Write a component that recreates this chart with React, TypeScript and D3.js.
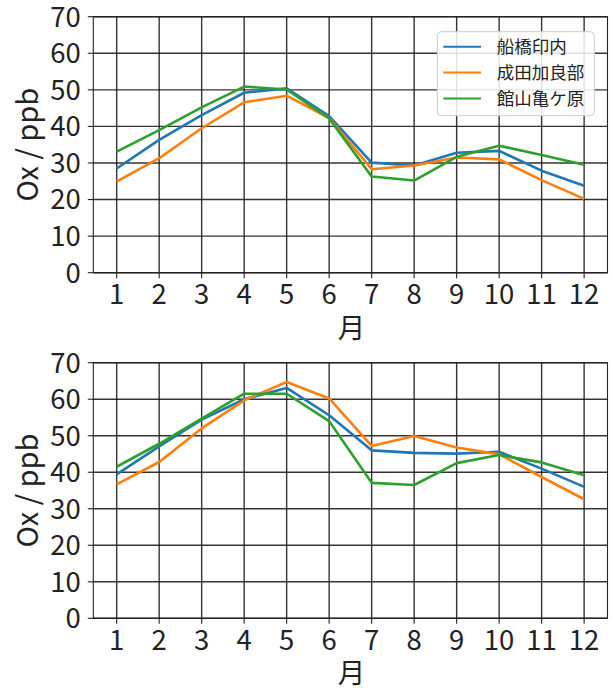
import React from "react";
import * as d3 from "d3";

const months = [1, 2, 3, 4, 5, 6, 7, 8, 9, 10, 11, 12];
const yTicks = [0, 10, 20, 30, 40, 50, 60, 70];
const seriesNames = ["船橋印内", "成田加良部", "館山亀ケ原"];
const seriesColors = ["#1f77b4", "#ff7f0e", "#2ca02c"];

const topFunabashi = [28.5, 36.3, 43.1, 49.2, 50.4, 42.8, 30.1, 29.3, 32.8, 33.3, 27.9, 23.8];
const topNarita = [24.9, 31.3, 39.5, 46.6, 48.4, 42.3, 28.3, 29.3, 31.5, 31.0, 25.3, 20.2];
const topTateyama = [33.1, 39.0, 45.2, 50.9, 50.1, 42.2, 26.3, 25.2, 31.7, 34.7, 32.2, 29.5];

const botFunabashi = [39.4, 47.1, 54.4, 60.0, 63.1, 55.6, 46.0, 45.3, 45.1, 45.6, 41.0, 36.0];
const botNarita = [36.7, 42.8, 52.0, 59.7, 64.7, 60.2, 47.2, 49.9, 46.8, 44.9, 38.7, 32.6];
const botTateyama = [41.5, 47.8, 54.7, 61.5, 61.5, 54.0, 37.1, 36.5, 42.5, 44.7, 42.7, 39.2];

const FONT = "'Noto Sans CJK JP', 'Noto Sans', sans-serif";

const W = 613;
const H = 688;
const left = 93.3;
const right = 607.5;
const FS = 27.5;
const FW = 400;

type PanelProps = { top: number; bottom: number; data: number[][]; legend: boolean };

function Panel({ top, bottom, data, legend }: PanelProps) {
  const x = d3.scaleLinear().domain([0.45, 12.55]).range([left, right]);
  const y = d3.scaleLinear().domain([0, 70]).range([bottom, top]);
  const line = d3
    .line<number>()
    .x((_, i) => x(months[i]))
    .y((d) => y(d));
  const tickLen = 5.5;
  return (
    <g>
      {months.map((m) => (
        <line key={"gx" + m} x1={x(m)} x2={x(m)} y1={top} y2={bottom} stroke="#111" strokeWidth={1.4} strokeOpacity={0.85} />
      ))}
      {yTicks.map((t) => (
        <line key={"gy" + t} x1={left} x2={right} y1={y(t)} y2={y(t)} stroke="#111" strokeWidth={1.4} strokeOpacity={0.85} />
      ))}
      {data.map((s, i) => (
        <path key={"s" + i} d={line(s) || ""} fill="none" stroke={seriesColors[i]} strokeWidth={2.6} strokeLinejoin="round" />
      ))}
      <rect x={left} y={top} width={right - left} height={bottom - top} fill="none" stroke="#222" strokeWidth={1.1} />
      {months.map((m) => (
        <g key={"tx" + m}>
          <line x1={x(m)} x2={x(m)} y1={bottom} y2={bottom + tickLen} stroke="#222" strokeWidth={1.1} />
          <text x={x(m)} y={bottom + 31.5} textAnchor="middle" fontFamily={FONT} fontWeight={FW} fontSize={FS} fill="#222">
            {m}
          </text>
        </g>
      ))}
      {yTicks.map((t) => (
        <g key={"ty" + t}>
          <line x1={left - tickLen} x2={left} y1={y(t)} y2={y(t)} stroke="#222" strokeWidth={1.1} />
          <text x={left - 12.5} y={y(t)} dy="0.36em" textAnchor="end" fontFamily={FONT} fontWeight={FW} fontSize={FS} fill="#222">
            {t}
          </text>
        </g>
      ))}
      <text
        transform={`translate(${27.5},${(top + bottom) / 2}) rotate(-90)`}
        textAnchor="middle"
        dy="0.36em"
        fontFamily={FONT}
        fontWeight={FW}
        fontSize={FS + 1.5}
        fill="#222"
      >
        Ox / ppb
      </text>
      <text x={(left + right) / 2 + 1} y={bottom + 65} textAnchor="middle" fontFamily={FONT} fontWeight={FW} fontSize={FS} fill="#222">
        月
      </text>
      {legend && (
        <g>
          <rect x={437.3} y={31.7} width={157} height={84} rx={4} fill="#fff" fillOpacity={0.85} stroke="#ccc" strokeWidth={1} />
          {seriesNames.map((n, i) => (
            <g key={"lg" + i}>
              <line x1={443.3} x2={481} y1={46.7 + i * 25.9} y2={46.7 + i * 25.9} stroke={seriesColors[i]} strokeWidth={2} />
              <text x={496.7} y={46.7 + i * 25.9} dy="0.36em" fontFamily={FONT} fontWeight={FW} fontSize={17.5} fill="#222">
                {n}
              </text>
            </g>
          ))}
        </g>
      )}
    </g>
  );
}

export default function App() {
  return (
    <svg width={W} height={H} style={{ position: "absolute", left: 0, top: 0, background: "#fff" }}>
      <rect width={W} height={H} fill="#fff" />
      <Panel top={16.7} bottom={272.7} data={[topFunabashi, topNarita, topTateyama]} legend={true} />
      <Panel top={362.7} bottom={618.3} data={[botFunabashi, botNarita, botTateyama]} legend={false} />
    </svg>
  );
}
